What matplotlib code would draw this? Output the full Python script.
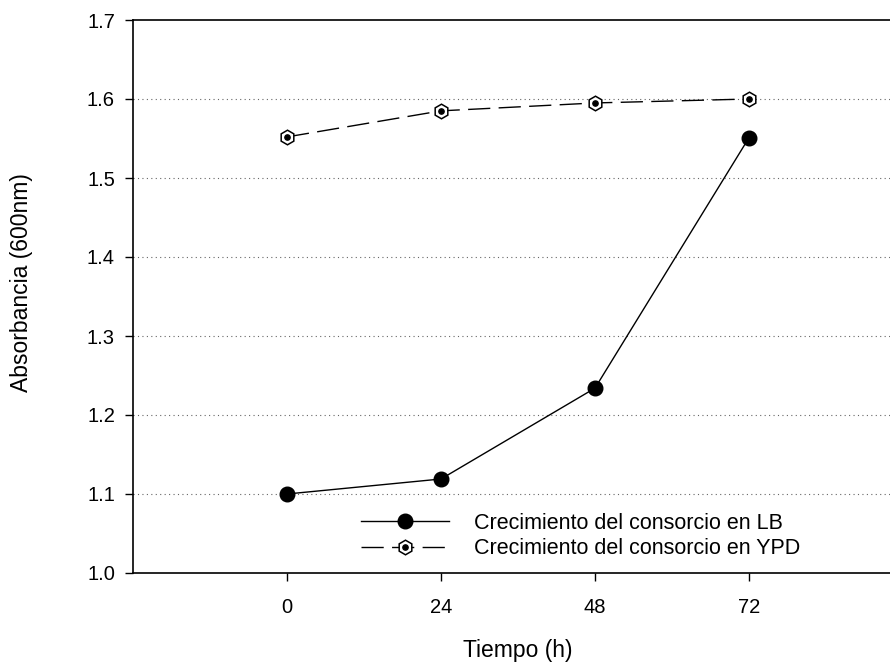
import matplotlib
matplotlib.use("Agg")
import matplotlib.pyplot as plt
from matplotlib.legend_handler import HandlerTuple

plt.rcParams['font.family'] = ['Liberation Sans', 'DejaVu Sans']

tiempo = [0, 24, 48, 72]
lb = [1.100, 1.119, 1.234, 1.551]
ypd = [1.552, 1.585, 1.595, 1.600]
yticks = [1.0, 1.1, 1.2, 1.3, 1.4, 1.5, 1.6, 1.7]
xticks = [0, 24, 48, 72]
label_lb = "Crecimiento del consorcio en LB"
label_ypd = "Crecimiento del consorcio en YPD"

fig = plt.figure(figsize=(8.9, 6.64), dpi=100)
ax = fig.add_axes([133/890, 91/664, 770/890, 553/664])

for y in yticks[1:-1]:
    ax.axhline(y, color='#666666', linestyle=(0, (1, 3)), linewidth=0.8, zorder=0)

l1, = ax.plot(tiempo, lb, color='black', linewidth=1.0, marker='o', markersize=10.5,
              markerfacecolor='black', markeredgecolor='black', zorder=3)
l2, = ax.plot(tiempo, ypd, color='black', linewidth=1.0, linestyle=(0, (16, 6)),
              marker='h', markersize=10.5, markerfacecolor='white',
              markeredgecolor='black', markeredgewidth=1.1, zorder=3)
l3, = ax.plot(tiempo, ypd, linestyle='none', marker='o', markersize=3.8,
              color='black', zorder=4)

ax.set_xlim(-24, 96)
ax.set_ylim(1.0, 1.7)
ax.set_xticks(xticks)
ax.set_yticks(yticks)
ax.set_yticklabels([f"{v:.1f}" for v in yticks])
ax.tick_params(axis='both', direction='out', length=6, width=1, labelsize=14.5, pad=7)
ax.tick_params(axis='x', pad=12)
ax.spines['right'].set_visible(False)
for s in ['left', 'bottom', 'top']:
    ax.spines[s].set_linewidth(1.2)

ax.set_xlabel("Tiempo (h)", fontsize=16.5, labelpad=16)
ax.set_ylabel("Absorbancia (600nm)", fontsize=16.5)
ax.yaxis.set_label_coords(-100/770, 0.525)

leg = ax.legend([l1, (l2, l3)], [label_lb, label_ypd],
                handler_map={tuple: HandlerTuple(ndivide=1)},
                loc='lower left', bbox_to_anchor=(217/770, 3/553),
                frameon=False, fontsize=15.5, handlelength=4.1,
                handletextpad=1.16, labelspacing=0.2, borderpad=0)

fig.savefig("out.png", dpi=100)
